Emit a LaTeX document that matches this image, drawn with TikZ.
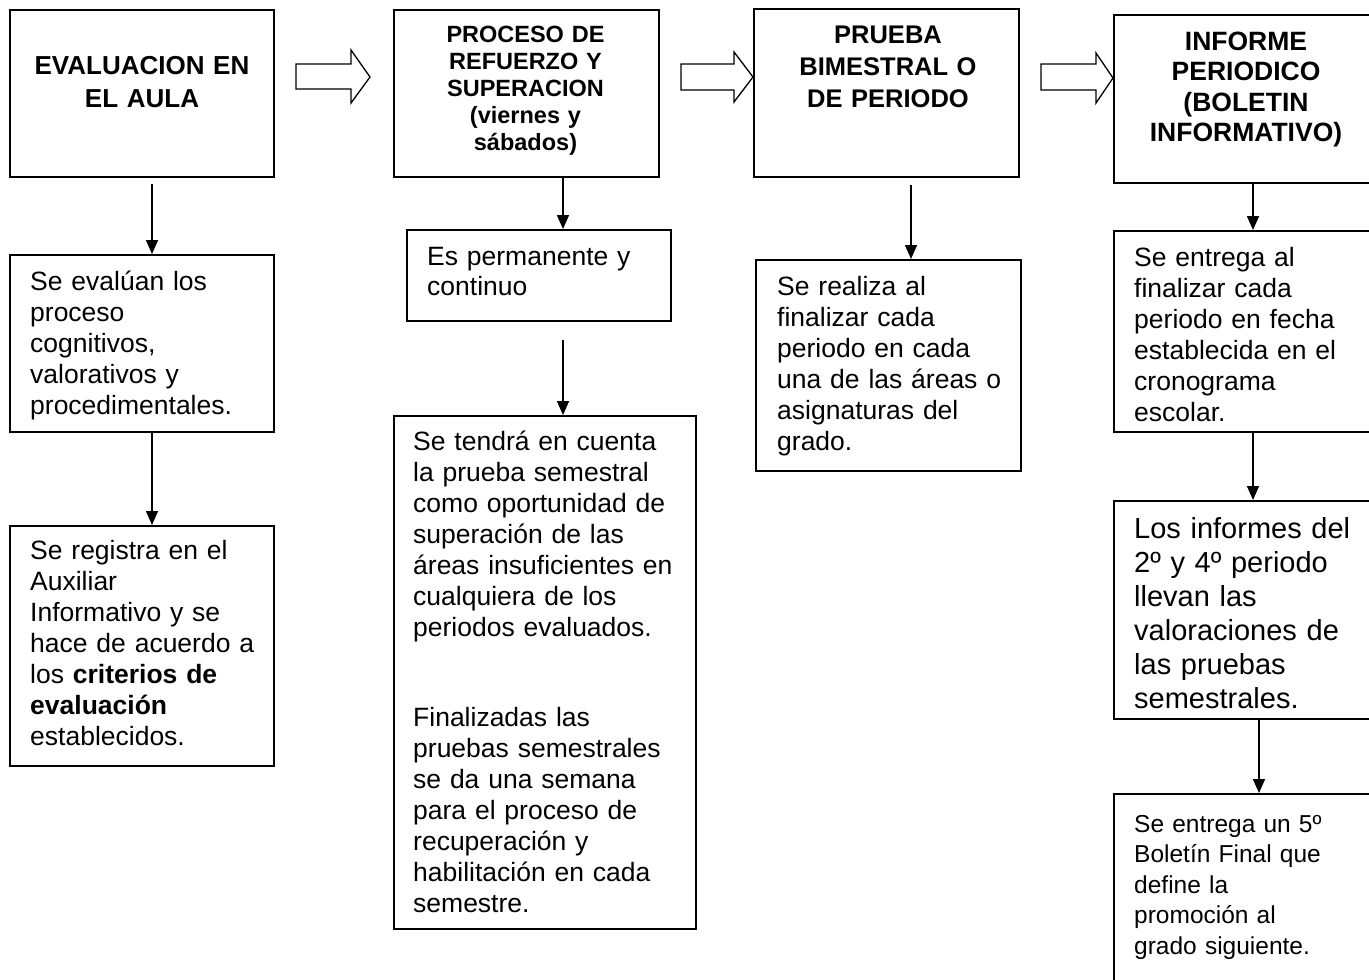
\documentclass[tikz,border=0pt]{standalone}
\usepackage{fontspec}
\setmainfont{Liberation Sans}
\usetikzlibrary{arrows.meta,calc}
\begin{document}
\begin{tikzpicture}[x=1pt,y=-1pt,
  box/.style={draw,line width=1.6pt,anchor=north west,inner sep=0pt,rectangle},
  body/.style={anchor=base west,inner sep=0pt,text width=290pt,align=left,font=\fontsize{26.5}{31}\selectfont},
  head/.style={anchor=base,inner sep=0pt,text width=250pt,align=center},
  arr/.style={line width=1.6pt,-{Triangle[width=12pt,length=14pt]}},
  hollow/.style={draw,line width=1.3pt,fill=white,line join=miter}]
\useasboundingbox (0,0) rectangle (1369,980);
\clip (0,0) rectangle (1369,980);

% boxes
\node[box,minimum width=264pt,minimum height=167pt] (b1) at (9,9) {};
\node[box,minimum width=264pt,minimum height=177pt] (b1a) at (9,254) {};
\node[box,minimum width=264pt,minimum height=240pt] (b1b) at (9,525) {};
\node[box,minimum width=265pt,minimum height=167pt] (b2) at (393,9) {};
\node[box,minimum width=264pt,minimum height=91pt] (b2a) at (406,229) {};
\node[box,minimum width=302pt,minimum height=513pt] (b2b) at (393,415) {};
\node[box,minimum width=265pt,minimum height=168pt] (b3) at (753,8) {};
\node[box,minimum width=265pt,minimum height=211pt] (b3a) at (755,259) {};
\node[box,minimum width=267pt,minimum height=168pt] (b4) at (1113,14) {};
\node[box,minimum width=267pt,minimum height=201pt] (b4a) at (1113,230) {};
\node[box,minimum width=267pt,minimum height=218pt] (b4b) at (1113,500) {};
\node[box,minimum width=267pt,minimum height=220pt] (b4c) at (1113,793) {};

% hollow block arrows
\draw[hollow] (296,64) -- (351,64) -- (351,50) -- (370,77) -- (351,103) -- (351,89) -- (296,89) -- cycle;
\draw[hollow] (681,64) -- (734,64) -- (734,52) -- (753,77) -- (734,102) -- (734,90) -- (681,90) -- cycle;
\draw[hollow] (1041,64) -- (1096,64) -- (1096,53) -- (1113,78) -- (1096,103) -- (1096,90) -- (1041,90) -- cycle;

% arrow columns
\coordinate (ax1) at (152,0);
\coordinate (ax2) at (563,0);
\coordinate (ax3) at (911,0);
\coordinate (ax4) at (1253,0);
\coordinate (ax5) at (1259,0);

\draw[arr] ($(b1.south -| ax1)+(0,6)$) -- (b1a.north -| ax1);
\draw[arr] (b1a.south -| ax1) -- (b1b.north -| ax1);
\draw[arr] (b2.south -| ax2) -- (b2a.north -| ax2);
\draw[arr] ($(b2a.south -| ax2)+(0,18)$) -- (b2b.north -| ax2);
\draw[arr] ($(b3.south -| ax3)+(0,7)$) -- (b3a.north -| ax3);
\draw[arr] (b4.south -| ax4) -- (b4a.north -| ax4);
\draw[arr] (b4a.south -| ax4) -- (b4b.north -| ax4);
\draw[arr] (b4b.south -| ax5) -- (b4c.north -| ax5);

% headers
\node[head,font=\fontsize{26}{33}\selectfont\bfseries] (h1) at (142,74) {EVALUACION EN\\EL AULA};
\node[head,font=\fontsize{23.5}{27}\selectfont\bfseries] (h2) at (525.5,42) {PROCESO DE\\REFUERZO Y\\SUPERACION\\(viernes y\\sábados)};
\node[head,font=\fontsize{25.5}{32}\selectfont\bfseries] (h3) at (888,43) {PRUEBA\\BIMESTRAL O\\DE PERIODO};
\node[head,font=\fontsize{26.5}{30.5}\selectfont\bfseries] (h4) at (1246,50) {INFORME\\PERIODICO\\(BOLETIN\\INFORMATIVO)};

% body texts
\node[body] (t1a) at (30,290) {Se evalúan los\\proceso\\cognitivos,\\valorativos y\\procedimentales.};
\node[body] (t1b) at (30,559) {Se registra en el\\Auxiliar\\Informativo y se\\hace de acuerdo a\\los \textbf{criterios de}\\\textbf{evaluación}\\establecidos.};
\node[body,font=\fontsize{26.5}{30}\selectfont] (t2a) at (427,265) {Es permanente y\\continuo};
\node[body] (t2b) at (413,450) {Se tendrá en cuenta\\la prueba semestral\\como oportunidad de\\superación de las\\áreas insuficientes en\\cualquiera de los\\periodos evaluados.};
\node[body] (t2c) at (413,726) {Finalizadas las\\pruebas semestrales\\se da una semana\\para el proceso de\\recuperación y\\habilitación en cada\\semestre.};
\node[body] (t3a) at (777,295) {Se realiza al\\finalizar cada\\periodo en cada\\una de las áreas o\\asignaturas del\\grado.};
\node[body] (t4a) at (1134,266) {Se entrega al\\finalizar cada\\periodo en fecha\\establecida en el\\cronograma\\escolar.};
\node[body,font=\fontsize{29}{34}\selectfont] (t4b) at (1134,538) {Los informes del\\2º y 4º periodo\\llevan las\\valoraciones de\\las pruebas\\semestrales.};
\node[body,font=\fontsize{24.5}{30.5}\selectfont] (t4c) at (1134,832) {Se entrega un 5º\\Boletín Final que\\define la\\promoción al\\grado siguiente.};
\end{tikzpicture}
\end{document}
